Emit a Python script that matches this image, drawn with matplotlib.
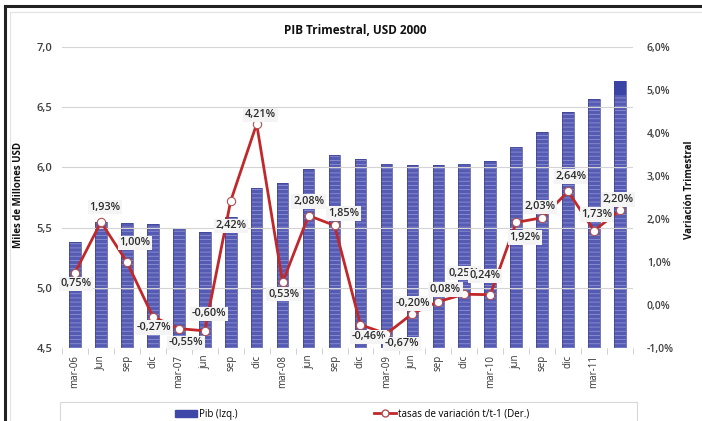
import matplotlib.pyplot as plt
import numpy as np
from matplotlib.patches import Rectangle
from matplotlib.lines import Line2D

plt.rcParams['font.family'] = ['Open Sans', 'DejaVu Sans']
plt.rcParams['hatch.linewidth'] = 0.6

# data
quarters = ['mar-06', 'Jun', 'sep', 'dic', 'mar-07', 'jun', 'sep', 'dic',
            'mar-08', 'jun', 'sep', 'dic', 'mar-09', 'jun', 'sep', 'dic',
            'mar-10', 'jun', 'sep', 'dic', 'mar-11', '']
pib = [5.38, 5.55, 5.54, 5.53, 5.50, 5.46, 5.59, 5.83,
       5.87, 5.99, 6.10, 6.07, 6.03, 6.02, 6.02, 6.03,
       6.05, 6.17, 6.29, 6.46, 6.57, 6.72]
tasas = [0.75, 1.93, 1.00, -0.27, -0.55, -0.60, 2.42, 4.21,
         0.53, 2.08, 1.85, -0.46, -0.67, -0.20, 0.08, 0.25,
         0.24, 1.92, 2.03, 2.64, 1.73, 2.20]

# label offsets (pixels) for the data labels
offsets = [(1, -11), (4, 15), (8, 19), (1, -11), (7, -14), (4, 17),
           (0, -25), (4, 9), (1, -12), (0, 14), (9, 12), (8, -12),
           (16, -10), (1, 10), (7, 12), (0, 21), (-5, 19), (9, -15),
           (-2, 11), (3, 15), (3, 16), (-2, 11)]

W, H = 702, 421
fig = plt.figure(figsize=(W / 100, H / 100), dpi=100)
ax = fig.add_axes([62 / W, 1 - 348 / H, (633 - 62) / W, (348 - 47) / H])
ax2 = ax.twinx()

x = np.arange(len(pib))
ax.bar(x, np.array(pib) - 4.5, bottom=4.5, width=0.45, color='#555ab3',
       edgecolor='#8d91d2', hatch='----', linewidth=0, zorder=2)
ax.bar(x, np.array(pib) - 4.5, bottom=4.5, width=0.45, fill=False,
       edgecolor='#3d4290', linewidth=0.5, zorder=2)
ax.bar(x[-1], 0.12, bottom=pib[-1] - 0.12, width=0.45, color='#3a44a4',
       linewidth=0, zorder=3)

ax.set_xlim(-0.5, len(pib) - 0.5)
ax.set_ylim(4.5, 7.0)
ax.set_yticks(np.arange(4.5, 7.01, 0.5))
ax.set_yticklabels([f'{v:.1f}'.replace('.', ',') for v in np.arange(4.5, 7.01, 0.5)])
ax.yaxis.grid(True, color='#d4d4d4', linewidth=0.8, zorder=1)
ax.set_axisbelow(False)
ax.set_xticks(x)
ax.set_xticklabels(quarters, rotation=90, fontsize=7, color='#333333')
ax.set_xticks(np.arange(-0.5, len(pib), 1), minor=True)
ax.tick_params(axis='x', which='major', length=0, pad=5)
ax.tick_params(axis='x', which='minor', length=4, color='#c8c8c8')
ax.tick_params(axis='y', length=0, labelsize=8, labelcolor='#404040', pad=7)
for lbl in ax.get_yticklabels():
    lbl.set_fontweight('semibold')
for s in ax.spines.values():
    s.set_visible(False)
for s in ax2.spines.values():
    s.set_visible(False)

ax2.plot(x, tasas, color='#c0282a', linewidth=2, marker='o', markersize=6,
         markerfacecolor='white', markeredgecolor='#b05050', markeredgewidth=0.8,
         zorder=4)
ax2.set_ylim(-1.0, 6.0)
ax2.set_yticks(np.arange(-1, 6.01, 1))
ax2.set_yticklabels([f'{v:.1f}%'.replace('.', ',') for v in np.arange(-1, 6.01, 1)])
ax2.tick_params(axis='y', length=0, labelsize=7.5, labelcolor='#404040', pad=10)
for lbl in ax2.get_yticklabels():
    lbl.set_fontweight('semibold')

for xi, v, (dx, dy) in zip(x, tasas, offsets):
    ax2.annotate(f'{v:.2f}%'.replace('.', ','), (xi, v),
                 xytext=(dx * 0.72, dy * 0.72), textcoords='offset points',
                 ha='center', va='center', fontsize=7.8, color='#2a2a2a',
                 fontweight='semibold',
                 bbox=dict(boxstyle='square,pad=0.15', fc='#f4f4f4', ec='none'),
                 zorder=6)

fig.text(355 / W, 1 - 30 / H, 'PIB Trimestral, USD 2000', ha='center', va='center',
         fontsize=8.5, fontweight='bold', color='#111111')
fig.text(19 / W, 1 - 195 / H, 'Miles de Millones USD', rotation=90, ha='center',
         va='center', fontsize=7, fontweight='bold', color='#111111')
fig.text(690 / W, 1 - 190 / H, 'Variación Trimestral', rotation=90, ha='center',
         va='center', fontsize=7, fontweight='bold', color='#111111')

# legend box
fig.patches.append(Rectangle((60 / W, -0.05), 577 / W, 0.05 + (H - 402) / H,
                             transform=fig.transFigure, fill=False,
                             edgecolor='#d8d8d8', linewidth=0.8))
handles = [Rectangle((0, 0), 1, 1, color='#3f48a8'),
           Line2D([], [], color='#c0282a', linewidth=2, marker='o', markersize=5,
                  markerfacecolor='white', markeredgecolor='#b05050')]
fig.legend(handles, ['Pib (Izq.)', 'tasas de variación t/t-1 (Der.)'],
           loc='center', bbox_to_anchor=(352 / W, 1 - 414 / H), ncol=2,
           frameon=False, fontsize=7, columnspacing=14, handlelength=2.3,
           handletextpad=0.2)

# outer frame
fig.lines.append(Line2D([5 / W, 5 / W], [0, 1 - 6 / H], transform=fig.transFigure,
                        color='#222222', linewidth=2.2))
fig.lines.append(Line2D([5 / W, 1], [1 - 6 / H, 1 - 6 / H], transform=fig.transFigure,
                        color='#222222', linewidth=2.2))
fig.lines.append(Line2D([10 / W, 10 / W], [0, 1 - 12 / H], transform=fig.transFigure,
                        color='#e2e2e2', linewidth=0.8))
fig.lines.append(Line2D([10 / W, 1], [1 - 12 / H, 1 - 12 / H], transform=fig.transFigure,
                        color='#e2e2e2', linewidth=0.8))

fig.savefig('out.png', dpi=100)
